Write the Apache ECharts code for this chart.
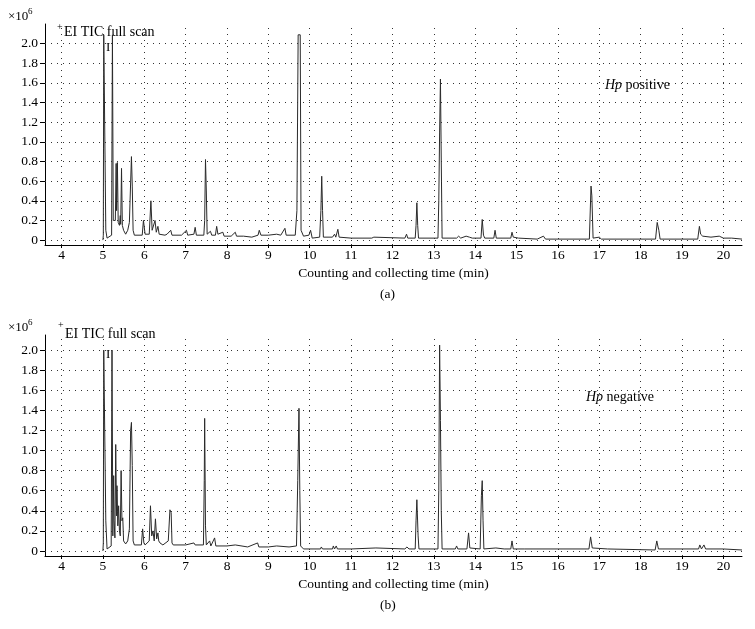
<!DOCTYPE html>
<html>
<head>
<meta charset="utf-8">
<script src="https://cdn.jsdelivr.net/npm/echarts@6/dist/echarts.min.js"></script>
<style>
  html, body { margin: 0; padding: 0; background: #fff; }
  #chart { width: 755px; height: 629px; }
</style>
</head>
<body>
<div id="chart"></div>
<script>
// time axis ticks (min) and intensity ticks (x10^6)
const xTicks = [4, 5, 6, 7, 8, 9, 10, 11, 12, 13, 14, 15, 16, 17, 18, 19, 20]
const yTicks = [0, 0.2, 0.4, 0.6, 0.8, 1.0, 1.2, 1.4, 1.6, 1.8, 2.0]

// (a) Hp positive
const timeA = [
  5.00, 5.01, 5.02, 5.06, 5.07, 5.10, 5.21, 5.23, 5.25, 5.28, 5.30, 5.32, 5.33, 5.35, 5.37, 5.40,
  5.42, 5.43, 5.45, 5.47, 5.50, 5.55, 5.60, 5.64, 5.67, 5.69, 5.71, 5.73, 5.76, 5.95, 5.98, 6.00,
  6.02, 6.12, 6.16, 6.19, 6.22, 6.26, 6.29, 6.33, 6.36, 6.50, 6.55, 6.64, 6.67, 6.90, 7.02, 7.05,
  7.20, 7.23, 7.26, 7.44, 7.46, 7.48, 7.50, 7.52, 7.60, 7.63, 7.72, 7.75, 7.78, 7.90, 7.93, 8.10,
  8.20, 8.23, 8.40, 8.60, 8.75, 8.78, 8.82, 9.00, 9.20, 9.30, 9.40, 9.43, 9.65, 9.69, 9.72, 9.77,
  9.79, 9.85, 9.98, 10.02, 10.06, 10.24, 10.27, 10.29, 10.31, 10.33, 10.55, 10.60, 10.63, 10.66, 10.68, 10.71,
  11.00, 11.50, 11.55, 11.58, 12.30, 12.34, 12.37, 12.55, 12.57, 12.59, 12.61, 12.63, 13.10, 13.12, 13.14, 13.16,
  13.18, 13.20, 13.55, 13.60, 13.65, 13.78, 13.82, 13.86, 13.90, 13.93, 14.14, 14.17, 14.20, 14.23, 14.45, 14.48,
  14.51, 14.60, 14.86, 14.89, 14.92, 15.05, 15.50, 15.65, 15.70, 16.76, 16.80, 16.82, 16.85, 17.00, 17.05, 18.36,
  18.40, 18.44, 18.47, 19.38, 19.42, 19.45, 19.50, 19.70, 19.90, 20.00, 20.20, 20.45
]
const valueA = [
  0.00, 0.05, 2.09, 2.09, 0.10, 0.02, 0.05, 2.09, 0.20, 0.22, 0.20, 0.78, 0.30, 0.79, 0.18, 0.15,
  0.25, 0.16, 0.73, 0.15, 0.10, 0.06, 0.10, 0.18, 0.20, 0.85, 0.55, 0.10, 0.05, 0.05, 0.20, 0.18,
  0.06, 0.06, 0.40, 0.10, 0.12, 0.20, 0.08, 0.14, 0.06, 0.05, 0.06, 0.10, 0.05, 0.05, 0.10, 0.05,
  0.06, 0.13, 0.05, 0.05, 0.20, 0.82, 0.50, 0.06, 0.09, 0.05, 0.05, 0.14, 0.06, 0.08, 0.04, 0.04,
  0.08, 0.04, 0.04, 0.03, 0.05, 0.10, 0.05, 0.05, 0.06, 0.05, 0.12, 0.05, 0.05, 0.30, 2.09, 2.09,
  0.10, 0.04, 0.05, 0.10, 0.02, 0.03, 0.30, 0.65, 0.30, 0.03, 0.03, 0.06, 0.03, 0.05, 0.11, 0.03,
  0.02, 0.02, 0.03, 0.02, 0.02, 0.06, 0.02, 0.02, 0.15, 0.38, 0.15, 0.02, 0.02, 0.40, 1.10, 1.64,
  0.80, 0.02, 0.02, 0.04, 0.02, 0.04, 0.05, 0.03, 0.05, 0.02, 0.02, 0.21, 0.05, 0.02, 0.02, 0.10,
  0.02, 0.02, 0.02, 0.08, 0.03, 0.02, 0.01, 0.04, 0.01, 0.01, 0.55, 0.45, 0.02, 0.03, 0.01, 0.01,
  0.18, 0.10, 0.01, 0.01, 0.14, 0.06, 0.04, 0.03, 0.04, 0.02, 0.02, 0.01
]

// (b) Hp negative
const timeB = [
  5.00, 5.01, 5.02, 5.05, 5.07, 5.10, 5.20, 5.22, 5.24, 5.26, 5.27, 5.29, 5.31, 5.33, 5.34, 5.36,
  5.38, 5.40, 5.42, 5.44, 5.46, 5.48, 5.50, 5.55, 5.60, 5.64, 5.67, 5.69, 5.71, 5.73, 5.76, 5.93,
  5.96, 5.99, 6.02, 6.12, 6.15, 6.18, 6.21, 6.24, 6.27, 6.30, 6.33, 6.35, 6.38, 6.45, 6.58, 6.62,
  6.65, 6.67, 6.70, 7.00, 7.20, 7.23, 7.43, 7.45, 7.46, 7.48, 7.50, 7.58, 7.61, 7.70, 7.73, 8.00,
  8.20, 8.50, 8.74, 8.77, 9.00, 9.20, 9.50, 9.68, 9.71, 9.74, 9.76, 9.78, 9.85, 10.26, 10.28, 10.31,
  10.55, 10.57, 10.60, 10.64, 10.67, 11.00, 11.60, 12.30, 12.35, 12.40, 12.55, 12.57, 12.59, 12.62, 12.64, 13.10,
  13.12, 13.14, 13.16, 13.18, 13.20, 13.52, 13.55, 13.58, 13.80, 13.84, 13.87, 14.12, 14.15, 14.17, 14.19, 14.21,
  14.50, 14.70, 14.86, 14.89, 14.92, 15.20, 16.75, 16.79, 16.83, 17.20, 18.35, 18.39, 18.43, 19.00, 19.40, 19.43,
  19.47, 19.53, 19.57, 20.00, 20.45
]
const valueB = [
  0.00, 0.08, 2.00, 2.00, 0.30, 0.02, 0.05, 2.00, 0.15, 0.75, 0.30, 0.13, 1.06, 0.35, 0.65, 0.25,
  0.45, 0.20, 0.15, 0.80, 0.30, 0.33, 0.10, 0.07, 0.10, 0.22, 1.20, 1.28, 0.85, 0.10, 0.06, 0.06,
  0.22, 0.08, 0.06, 0.10, 0.45, 0.15, 0.20, 0.10, 0.32, 0.12, 0.18, 0.10, 0.08, 0.06, 0.10, 0.41,
  0.38, 0.08, 0.06, 0.06, 0.08, 0.06, 0.06, 0.70, 1.32, 0.25, 0.06, 0.10, 0.05, 0.13, 0.05, 0.05,
  0.06, 0.04, 0.08, 0.04, 0.04, 0.05, 0.04, 0.05, 0.70, 1.42, 0.60, 0.05, 0.02, 0.02, 0.04, 0.02,
  0.02, 0.05, 0.02, 0.05, 0.02, 0.02, 0.03, 0.02, 0.04, 0.02, 0.02, 0.30, 0.51, 0.15, 0.02, 0.02,
  0.60, 2.05, 1.30, 0.40, 0.02, 0.02, 0.05, 0.02, 0.02, 0.18, 0.03, 0.02, 0.55, 0.70, 0.30, 0.02,
  0.03, 0.02, 0.02, 0.10, 0.02, 0.02, 0.02, 0.14, 0.03, 0.02, 0.01, 0.10, 0.02, 0.02, 0.02, 0.06,
  0.02, 0.06, 0.02, 0.02, 0.01
]

const serif = 'Liberation Serif'
const zip = (t, v) => t.map((x, i) => [x, v[i]])

const gridLines = {
  silent: true,
  symbol: 'none',
  label: { show: false },
  emphasis: { disabled: true },
  animation: false,
  lineStyle: { type: [1, 5], color: '#333', width: 1 },
  data: [...xTicks.map(x => ({ xAxis: x })), ...yTicks.map(y => ({ yAxis: y }))]
}

const makeX = (idx) => ({
  gridIndex: idx,
  type: 'value',
  min: 3.6,
  max: 20.45,
  axisLine: { onZero: false, lineStyle: { color: '#000', width: 1 } },
  axisTick: { customValues: xTicks, length: 3, lineStyle: { color: '#000' } },
  axisLabel: { customValues: xTicks, color: '#000', fontFamily: serif, fontSize: 13.5, margin: 3 },
  splitLine: { show: false },
  name: 'Counting and collecting time (min)',
  nameLocation: 'middle',
  nameGap: 21,
  nameTextStyle: { color: '#000', fontFamily: serif, fontSize: 13.5 }
})

const makeY = (idx, max) => ({
  gridIndex: idx,
  type: 'value',
  min: -0.05,
  max: max,
  axisLine: { show: true, lineStyle: { color: '#000', width: 1 } },
  axisTick: { show: true, customValues: yTicks, length: 5, lineStyle: { color: '#000' } },
  axisLabel: {
    customValues: yTicks,
    color: '#000',
    fontFamily: serif,
    fontSize: 13.5,
    margin: 7,
    formatter: v => (v === 0 ? '0' : v.toFixed(1))
  },
  splitLine: { show: false }
})

const txt = (x, y, text, size, extra) => ({
  type: 'text',
  x: x,
  y: y,
  z: 100,
  style: Object.assign({ text: text, fill: '#000', font: size + 'px "' + serif + '"', textVerticalAlign: 'middle' }, extra || {})
})

const Chart = echarts.init(document.getElementById('chart'), null, { renderer: 'canvas' })
const option = {
  animation: false,
  backgroundColor: '#fff',
  grid: [
    { left: 45, right: 13, top: 24, height: 221 },
    { left: 45, right: 13, top: 335, height: 221 }
  ],
  xAxis: [makeX(0), makeX(1)],
  yAxis: [makeY(0, 2.2), makeY(1, 2.15)],
  series: [
    {
      name: 'Hp positive',
      type: 'line',
      xAxisIndex: 0,
      yAxisIndex: 0,
      symbol: 'none',
      lineStyle: { color: '#2a2a2a', width: 1 },
      data: zip(timeA, valueA),
      markLine: gridLines
    },
    {
      name: 'Hp negative',
      type: 'line',
      xAxisIndex: 1,
      yAxisIndex: 1,
      symbol: 'none',
      lineStyle: { color: '#2a2a2a', width: 1 },
      data: zip(timeB, valueB),
      markLine: gridLines
    }
  ],
  graphic: [
    txt(8, 17, '×10', 13),
    txt(28, 12, '6', 9),
    txt(57, 27, '+', 10),
    txt(64, 32, 'EI TIC full scan', 14),
    txt(106, 48, 'I', 13),
    {
      type: 'text', x: 605, y: 85,
      style: {
        text: '{i|Hp} positive', fill: '#000', font: '14px "' + serif + '"', textVerticalAlign: 'middle',
        rich: { i: { fontStyle: 'italic', fontFamily: serif, fontSize: 14 } }
      }
    },
    txt(380, 294, '(a)', 13.5),

    txt(8, 328, '×10', 13),
    txt(28, 323, '6', 9),
    txt(58, 325, '+', 10),
    txt(65, 334, 'EI TIC full scan', 14),
    txt(106, 355, 'I', 13),
    {
      type: 'text', x: 586, y: 397,
      style: {
        text: '{i|Hp} negative', fill: '#000', font: '14px "' + serif + '"', textVerticalAlign: 'middle',
        rich: { i: { fontStyle: 'italic', fontFamily: serif, fontSize: 14 } }
      }
    },
    txt(380, 605, '(b)', 13.5)
  ]
}
option && Chart.setOption(option)
</script>
</body>
</html>
